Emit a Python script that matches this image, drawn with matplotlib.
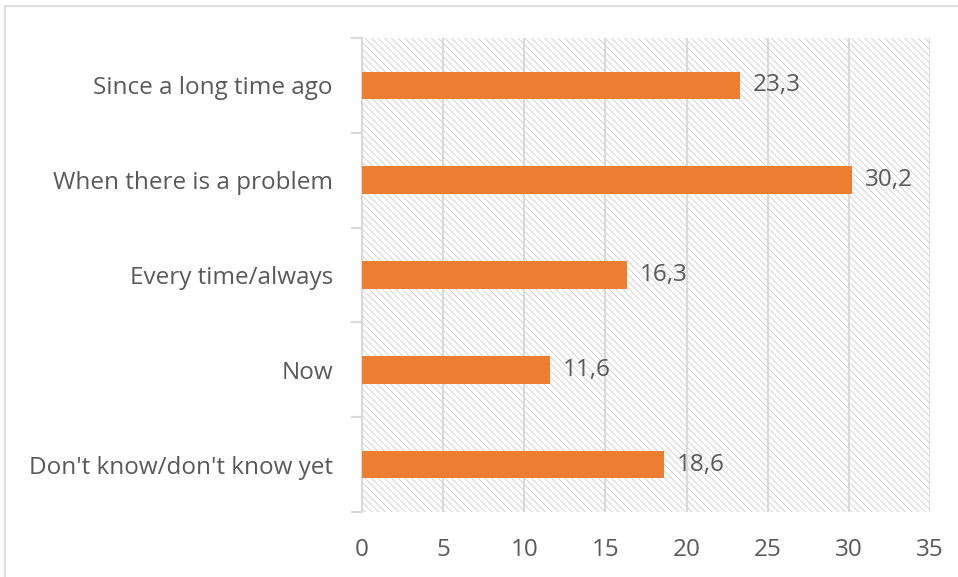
import matplotlib.pyplot as plt
from matplotlib.patches import Rectangle

# Data
categories = ["Don't know/don't know yet", "Now", "Every time/always",
              "When there is a problem", "Since a long time ago"]
values = [18.6, 11.6, 16.3, 30.2, 23.3]
xticks = [0, 5, 10, 15, 20, 25, 30, 35]

plt.rcParams['font.family'] = ['Open Sans', 'DejaVu Sans']
plt.rcParams['hatch.linewidth'] = 0.6

text_col = '#595959'
grid_col = '#d9d9d9'
bar_col = '#ed7d31'
fs = 17.5

fig = plt.figure(figsize=(9.58, 5.77), dpi=100)
ax = fig.add_axes([362 / 958, 1 - 512 / 577, 568 / 958, 474 / 577])

# hatched plot-area background
bg = Rectangle((0, 0), 1, 1, transform=ax.transAxes, facecolor='white',
               edgecolor='#cccccc', linewidth=0, hatch='\\\\\\\\\\', zorder=0)
ax.add_patch(bg)

y = range(len(categories))
ax.barh(y, values, height=0.29, color=bar_col, zorder=3)
for i, v in enumerate(values):
    ax.text(v + 0.8, i, f"{v:.1f}".replace('.', ','), va='center', ha='left',
            fontsize=fs, color=text_col, zorder=4)

ax.set_xlim(0, 35)
ax.set_ylim(-0.5, len(categories) - 0.5)
ax.set_xticks(xticks)
ax.set_xticklabels([str(t) for t in xticks])
ax.set_yticks(list(y))
ax.set_yticklabels(categories)
ax.set_yticks([i - 0.5 for i in range(len(categories) + 1)], minor=True)

ax.grid(axis='x', color=grid_col, linewidth=1.5, zorder=1)
ax.set_axisbelow(True)
for s in ['top', 'right', 'bottom']:
    ax.spines[s].set_visible(False)
ax.spines['left'].set_color(grid_col)
ax.spines['left'].set_linewidth(1.5)

ax.tick_params(axis='x', length=0, labelsize=fs, labelcolor=text_col, pad=19)
ax.tick_params(axis='y', which='major', length=0, labelsize=fs,
               labelcolor=text_col, pad=21)
ax.tick_params(axis='y', which='minor', length=8, color=grid_col, width=1.5)

# chart border (cut off at right and bottom)
fig.patches.append(Rectangle((5 / 958, -0.1), 1.2, 1 - 6 / 577 + 0.1,
                             transform=fig.transFigure, fill=False,
                             edgecolor='#d9d9d9', linewidth=1.2))

fig.savefig('out.png', dpi=100)
